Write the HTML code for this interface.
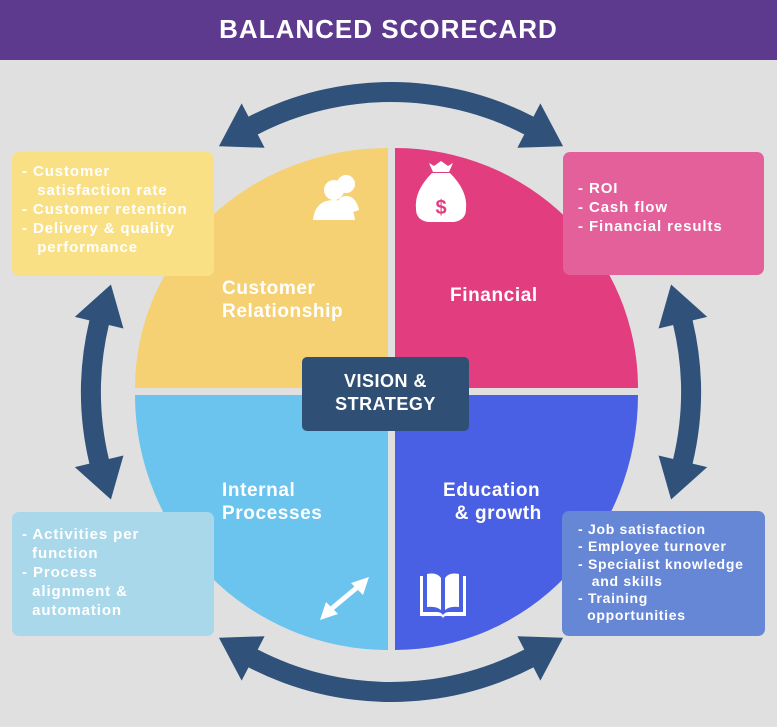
<!DOCTYPE html>
<html><head><meta charset="utf-8"><style>
body{margin:0;width:777px;height:727px;background:#e0e0e0;font-family:"Liberation Sans",sans-serif;overflow:hidden;position:relative}
.hdr{position:absolute;left:0;top:0;width:777px;height:60px;background:#5e3a8f;color:#fff;font-weight:bold;font-size:26px;text-align:center;line-height:58px;letter-spacing:1px}
.box{position:absolute;border-radius:7px;color:#fff;font-weight:bold;font-size:15px;line-height:19px;box-sizing:border-box;letter-spacing:0.9px;white-space:nowrap}
.lbl{position:absolute;color:#fff;font-weight:bold;font-size:19px;line-height:23px;letter-spacing:0.6px}
svg{position:absolute;left:0;top:0}
</style></head><body>
<div class="hdr">BALANCED SCORECARD</div>
<svg width="777" height="727" id="s">
<path d="M388,388 L135,388 A253,240 0 0 1 388,148 Z" fill="#f6d173"/>
<path d="M395,388 L395,148 A243,240 0 0 1 638,388 Z" fill="#e23e7f"/>
<path d="M395,395 L638,395 A243,255 0 0 1 395,650 Z" fill="#4a60e4"/>
<path d="M388,395 L388,650 A253,255 0 0 1 135,395 Z" fill="#6ac4ee"/>
<g id="arr" fill="#30527a" stroke="none"></g>
<g fill="#fff">
<circle cx="346" cy="184" r="9"/><path d="M335,212 q2,-16 11,-16 q10,0 13,14 q-8,4 -24,2z"/>
<circle cx="334" cy="190" r="10"/><path d="M313,220 q2,-20 21,-20 q19,0 21,20 z"/>
</g>
<g>
<path d="M433,172 l-4,-9 5,3 7,-5 7,5 5,-3 -4,9z" fill="#fff"/>
<path d="M432,173 h18 q18,18 16,36 q0,11 -12,13 h-26 q-12,-2 -12,-13 q-2,-18 16,-36z" fill="#fff"/>
<text x="441" y="214" fill="#e23e7f" font-size="20" font-weight="bold" text-anchor="middle" font-family="Liberation Sans">$</text>
</g>
<g stroke="#fff" stroke-width="5" fill="#fff">
<line x1="330" y1="610" x2="360" y2="585"/>
<path d="M320,620 l6,-18 12,12z" stroke="none"/>
<path d="M369,577 l-6,18 -12,-12z" stroke="none"/>
</g>
<g fill="#fff">
<path d="M420,576 h3 v36 h14 q4,0 6,3 q2,-3 6,-3 h14 v-36 h3 v40 h-20 q-3,0 -3,3 q0,-3 -3,-3 h-20z"/>
<path d="M427,574 q10,-2 14,4 v32 q-5,-4 -14,-3z"/>
<path d="M459,574 q-10,-2 -14,4 v32 q5,-4 14,-3z"/>
</g>
</svg>
<div class="box" style="left:12px;top:152px;width:202px;height:124px;background:#f9e085;padding:10px 0 0 10px">- Customer<br>&nbsp;&nbsp;&nbsp;satisfaction rate<br>- Customer retention<br>- Delivery &amp; quality<br>&nbsp;&nbsp;&nbsp;performance</div>
<div class="box" style="left:563px;top:152px;width:201px;height:123px;background:#e4609a;padding:27px 0 0 15px">- ROI<br>- Cash flow<br>- Financial results</div>
<div class="box" style="left:12px;top:512px;width:202px;height:124px;background:#a8d8ea;padding:13px 0 0 10px">- Activities per<br>&nbsp;&nbsp;function<br>- Process<br>&nbsp;&nbsp;alignment &amp;<br>&nbsp;&nbsp;automation</div>
<div class="box" style="left:562px;top:511px;width:203px;height:125px;background:#6686d6;padding:10px 0 0 16px;font-size:14px;line-height:17.3px;letter-spacing:0.7px">- Job satisfaction<br>- Employee turnover<br>- Specialist knowledge<br>&nbsp;&nbsp;&nbsp;and skills<br>- Training<br>&nbsp;&nbsp;opportunities</div>
<div class="lbl" style="left:222px;top:277px">Customer<br>Relationship</div>
<div class="lbl" style="left:450px;top:284px">Financial</div>
<div class="lbl" style="left:222px;top:479px">Internal<br>Processes</div>
<div class="lbl" style="left:443px;top:479px">Education<br>&nbsp;&nbsp;&amp; growth</div>
<div style="position:absolute;left:302px;top:357px;width:167px;height:74px;background:#2f4f75;border-radius:5px;color:#fff;font-weight:bold;font-size:18px;line-height:23px;text-align:center;padding-top:13px;box-sizing:border-box;letter-spacing:0.5px">VISION &amp;<br>STRATEGY</div>
<script>
var g=document.getElementById('arr'),cx=391,cy=392,r=300,w=10,hw=25,hl=40;
function P(a,rr){a=a*Math.PI/180;return [cx+rr*Math.cos(a),cy+rr*Math.sin(a)];}
function arc(a1,a2){
 var d=hl/r*180/Math.PI,b1=a1+d,b2=a2-d,s='';
 var p1=P(b1,r+w),p2=P(b2,r+w),p3=P(b2,r-w),p4=P(b1,r-w);
 s+='M'+p1+' A'+(r+w)+','+(r+w)+' 0 0 1 '+p2+' L'+p3+' A'+(r-w)+','+(r-w)+' 0 0 0 '+p4+'Z';
 [[a1,b1],[a2,b2]].forEach(function(t){var tip=P(t[0],r),o=P(t[1],r+hw),i=P(t[1],r-hw);s+=' M'+tip+' L'+o+' L'+i+'Z';});
 var e=document.createElementNS('http://www.w3.org/2000/svg','path');e.setAttribute('d',s);g.appendChild(e);
}
arc(-125,-55);arc(-21,21);arc(55,125);arc(159,201);
</script>
</body></html>
